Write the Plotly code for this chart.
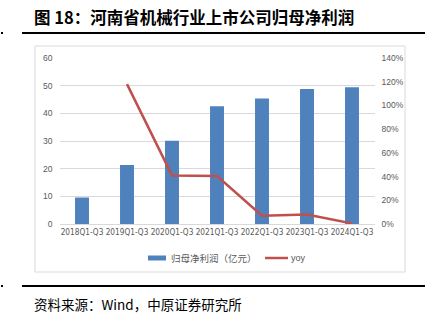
import plotly.graph_objects as go

categories = ["2018Q1-Q3", "2019Q1-Q3", "2020Q1-Q3", "2021Q1-Q3", "2022Q1-Q3", "2023Q1-Q3", "2024Q1-Q3"]
profit = [9.6, 21.3, 30.1, 42.6, 45.4, 48.8, 49.4]
yoy = [None, 1.18, 0.41, 0.405, 0.07, 0.08, 0.005]
left_ticks = [0, 10, 20, 30, 40, 50, 60]
right_ticks = [0, 0.2, 0.4, 0.6, 0.8, 1.0, 1.2, 1.4]

W, H = 432, 323
def px(x): return x / W
def py(y): return 1 - y / H

BLUE = "#4f81bd"
RED = "#c0504d"
GRAY = "#595959"
CJK = "Noto Sans CJK SC"
NUM = "Liberation Sans, Noto Sans CJK SC"
NARROW = "DejaVu Sans Condensed, Liberation Sans"

fig = go.Figure()
fig.add_trace(go.Bar(x=categories, y=profit, name="归母净利润（亿元）", marker_color=BLUE,
                     marker_line_width=0, yaxis="y", showlegend=False))
fig.add_trace(go.Scatter(x=categories, y=yoy, name="yoy", mode="lines",
                         line=dict(color=RED, width=2.5), yaxis="y2", showlegend=False))

fig.update_layout(
    width=W, height=H,
    margin=dict(l=0, r=0, t=0, b=0),
    paper_bgcolor="white", plot_bgcolor="white",
    bargap=0.69,
    xaxis=dict(domain=[px(59.5), px(374.5)], tickfont=dict(family=NARROW, size=8.2, color=GRAY),
               showline=True, linecolor="#d9d9d9", linewidth=1, ticks="", showgrid=False,
               tickangle=0, automargin=False),
    yaxis=dict(domain=[py(224), py(58)], range=[0, 60], tickvals=left_ticks,
               tickfont=dict(family=NUM, size=8.5, color=GRAY), showgrid=True,
               gridcolor="#d9d9d9", gridwidth=1, zeroline=False, ticks="", ticklabelstandoff=6,
               automargin=False),
    yaxis2=dict(overlaying="y", side="right", range=[0, 1.4], tickvals=right_ticks,
                tickformat=".0%", tickfont=dict(family=NUM, size=8.5, color=GRAY),
                showgrid=False, zeroline=False, ticks="", ticklabelstandoff=6, automargin=False,
                anchor="x"),
)

shapes = [
    dict(type="line", xref="paper", yref="paper", x0=px(22), x1=px(425), y0=py(33), y1=py(33),
         line=dict(color="black", width=2)),
    dict(type="line", xref="paper", yref="paper", x0=px(22), x1=px(425), y0=py(286), y1=py(286),
         line=dict(color="black", width=2)),
    dict(type="rect", xref="paper", yref="paper", x0=px(1), x1=px(3), y0=py(32), y1=py(34),
         fillcolor="black", line=dict(width=0)),
    dict(type="rect", xref="paper", yref="paper", x0=px(1), x1=px(3), y0=py(285), y1=py(287),
         fillcolor="black", line=dict(width=0)),
    dict(type="rect", xref="paper", yref="paper", x0=px(35), x1=px(405), y0=py(46), y1=py(272),
         line=dict(color="#d9d9d9", width=1)),
    dict(type="rect", xref="paper", yref="paper", x0=px(148), x1=px(166), y0=py(255.5), y1=py(260.5),
         fillcolor=BLUE, line=dict(width=0)),
    dict(type="line", xref="paper", yref="paper", x0=px(265), x1=px(288), y0=py(258), y1=py(258),
         line=dict(color=RED, width=2.5)),
]
fig.update_layout(shapes=shapes)

annotations = [
    dict(text="<b>图 18：河南省机械行业上市公司归母净利润</b>", x=px(32), y=py(17), xref="paper", yref="paper",
         xanchor="left", yanchor="middle", showarrow=False, font=dict(family=CJK, size=16.5, color="black")),
    dict(text="资料来源：Wind，中原证券研究所", x=px(32), y=py(304), xref="paper", yref="paper",
         xanchor="left", yanchor="middle", showarrow=False, font=dict(family=CJK, size=13.5, color="black")),
    dict(text="归母净利润（亿元）", x=px(169), y=py(258), xref="paper", yref="paper",
         xanchor="left", yanchor="middle", showarrow=False, font=dict(family=CJK, size=9.5, color=GRAY)),
    dict(text="yoy", x=px(289), y=py(258), xref="paper", yref="paper",
         xanchor="left", yanchor="middle", showarrow=False, font=dict(family=NUM, size=9, color=GRAY)),
]
fig.update_layout(annotations=annotations)

fig.write_html("out.html")
